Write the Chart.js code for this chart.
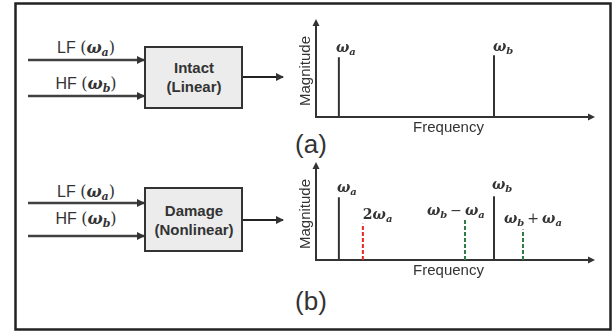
<!DOCTYPE html>
<html>
<head>
<meta charset="utf-8">
<script src="https://cdn.jsdelivr.net/npm/chart.js@4.4.1/dist/chart.umd.min.js"></script>
<style>
  body { margin: 0; background: #fff; }
  #page { position: relative; width: 614px; height: 333px; overflow: hidden; }
  #page svg { position: absolute; left: 0; top: 0; }
  #page canvas { position: absolute; }
  #c1 { left: 288px; top: 8px; }
  #c2 { left: 288px; top: 150px; }
  .m { font-family: "DejaVu Serif", serif; font-weight: bold; font-style: italic; }
  .p { font-family: "DejaVu Serif", serif; }
</style>
</head>
<body>
<div id="page">
<svg width="614" height="333" xmlns="http://www.w3.org/2000/svg">
  <defs>
    <marker id="ah" markerWidth="8" markerHeight="8" refX="7" refY="4" orient="auto" markerUnits="userSpaceOnUse">
      <path d="M0,0 L8,4 L0,8 z" fill="#333"/>
    </marker>
  </defs>
  <rect x="15.5" y="3.5" width="595" height="326" fill="none" stroke="#222" stroke-width="2.5"/>

  <!-- (a) intact -->
  <line x1="28" y1="60" x2="144" y2="60" stroke="#404040" stroke-width="2.5" marker-end="url(#ah)"/>
  <line x1="28" y1="96" x2="144" y2="96" stroke="#404040" stroke-width="2.5" marker-end="url(#ah)"/>
  <rect x="145" y="47" width="97" height="61" fill="#ececec" stroke="#333" stroke-width="2"/>
  <line x1="243" y1="77" x2="283" y2="77" stroke="#222" stroke-width="2" marker-end="url(#ah)"/>
  <g font-family="Liberation Sans, Arial, sans-serif" font-size="16" fill="#333" text-anchor="middle">
    <text x="86" y="53">LF <tspan class="p">(</tspan><tspan class="m">ω</tspan><tspan class="m" font-size="11" dy="3">a</tspan><tspan class="p" dy="-3">)</tspan></text>
    <text x="86" y="89">HF <tspan class="p">(</tspan><tspan class="m">ω</tspan><tspan class="m" font-size="11" dy="3">b</tspan><tspan class="p" dy="-3">)</tspan></text>
    <text x="194" y="73" font-weight="bold" font-size="15">Intact</text>
    <text x="194" y="92" font-weight="bold" font-size="15">(Linear)</text>
    <text x="311" y="153" font-size="26">(a)</text>
  </g>

  <!-- (b) damage -->
  <line x1="28" y1="203" x2="144" y2="203" stroke="#404040" stroke-width="2.5" marker-end="url(#ah)"/>
  <line x1="28" y1="236" x2="144" y2="236" stroke="#404040" stroke-width="2.5" marker-end="url(#ah)"/>
  <rect x="145" y="188" width="97" height="63" fill="#ececec" stroke="#333" stroke-width="2"/>
  <line x1="243" y1="220" x2="283" y2="220" stroke="#222" stroke-width="2" marker-end="url(#ah)"/>
  <g font-family="Liberation Sans, Arial, sans-serif" font-size="16" fill="#333" text-anchor="middle">
    <text x="86" y="197">LF <tspan class="p">(</tspan><tspan class="m">ω</tspan><tspan class="m" font-size="11" dy="3">a</tspan><tspan class="p" dy="-3">)</tspan></text>
    <text x="86" y="224">HF <tspan class="p">(</tspan><tspan class="m">ω</tspan><tspan class="m" font-size="11" dy="3">b</tspan><tspan class="p" dy="-3">)</tspan></text>
    <text x="194" y="216" font-weight="bold" font-size="15">Damage</text>
    <text x="194" y="235" font-weight="bold" font-size="15">(Nonlinear)</text>
    <text x="311" y="310" font-size="26">(b)</text>
  </g>
</svg>
<canvas id="c1" width="322" height="140"></canvas>
<canvas id="c2" width="322" height="140"></canvas>
</div>
<script>
// spectrum (a): intact, linear response
const freqA = [8.2, 63.8];
const magA = [0.61, 0.63];
const labelsA = ['ω_a', 'ω_b'];
const kindA = ['input', 'input'];

// spectrum (b): damage, nonlinear response
const freqB = [8.2, 16.8, 53.4, 63.8, 74.2];
const magB = [0.64, 0.37, 0.41, 0.65, 0.31];
const labelsB = ['ω_a', '2ω_a', 'ω_b − ω_a', 'ω_b', 'ω_b + ω_a'];
const kindB = ['input', 'harmonic', 'sideband', 'input', 'sideband'];

const freqMax = 100;
const magMax = 1;

// how each kind of line looks
const styleOf = {
  input:    { color: '#333333', dash: [] },
  harmonic: { color: '#e32b22', dash: [4, 2] },
  sideband: { color: '#2f7a45', dash: [4, 2] }
};
// label nudges in px, [dx from the line, dy above its top]
const shiftA = [[-3, 5], [-1, 4]];
const shiftB = [[-2, 5], [0, 5], [-38, 5], [-2, 7], [-19, 7]];

const ink = '#333';
const mathFont = 'bold italic 14px "DejaVu Serif", serif';
const subFont = 'bold italic 10px "DejaVu Serif", serif';
const opFont = '14px "DejaVu Serif", serif';

// draws things like "ω_b − ω_a": "_" marks a subscript letter
function drawMath(ctx, text, x, y) {
  let cx = x;
  let i = 0;
  while (i < text.length) {
    const ch = text[i];
    if (ch === '_') {
      ctx.font = subFont;
      ctx.fillText(text[i + 1], cx, y + 3);
      cx += ctx.measureText(text[i + 1]).width;
      i += 2;
      continue;
    }
    if (ch === ' ') { cx += 3; i++; continue; }
    if (ch === '−' || ch === '+') {
      ctx.font = opFont;
      ctx.fillText(ch, cx, y);
      cx += ctx.measureText(ch).width;
      i++;
      continue;
    }
    ctx.font = /[0-9]/.test(ch) ? 'bold 14px "DejaVu Serif", serif' : mathFont;
    ctx.fillText(ch, cx, y);
    cx += ctx.measureText(ch).width;
    i++;
  }
}

const axesPlugin = {
  id: 'spectrumAxes',
  beforeDatasetsDraw(chart) {
    const { ctx, chartArea: a } = chart;
    ctx.save();
    ctx.strokeStyle = ink;
    ctx.fillStyle = ink;
    ctx.lineWidth = 2;
    ctx.beginPath();
    ctx.moveTo(a.left, a.bottom);
    ctx.lineTo(a.left, a.top + 5);
    ctx.moveTo(a.left - 1, a.bottom);
    ctx.lineTo(a.right - 5, a.bottom);
    ctx.stroke();
    // arrow heads
    ctx.beginPath();
    ctx.moveTo(a.left, a.top);
    ctx.lineTo(a.left - 3.5, a.top + 7);
    ctx.lineTo(a.left + 3.5, a.top + 7);
    ctx.closePath();
    ctx.fill();
    ctx.beginPath();
    ctx.moveTo(a.right, a.bottom);
    ctx.lineTo(a.right - 7, a.bottom - 3.5);
    ctx.lineTo(a.right - 7, a.bottom + 3.5);
    ctx.closePath();
    ctx.fill();
    // axis titles
    ctx.font = '15px "Liberation Sans", Arial, sans-serif';
    ctx.textAlign = 'center';
    ctx.textBaseline = 'middle';
    ctx.fillText('Frequency', (a.left + a.right) / 2 - 7, a.bottom + 11);
    ctx.translate(a.left - 10, (a.top + a.bottom) / 2 + 3);
    ctx.rotate(-Math.PI / 2);
    ctx.fillText('Magnitude', 0, 0);
    ctx.restore();
  },
  afterDatasetsDraw(chart, args, opts) {
    const { ctx } = chart;
    const xs = chart.scales.x, ys = chart.scales.y;
    ctx.save();
    ctx.fillStyle = ink;
    ctx.textAlign = 'left';
    ctx.textBaseline = 'alphabetic';
    opts.freqs.forEach((f, i) => {
      const px = xs.getPixelForValue(f);
      const py = ys.getPixelForValue(opts.mags[i]);
      const s = opts.shift[i];
      drawMath(ctx, opts.labels[i], px + s[0], py - s[1]);
    });
    ctx.restore();
  }
};

function spikeSets(freqs, mags, kinds) {
  return freqs.map((f, i) => ({
    data: [{ x: f, y: 0 }, { x: f, y: mags[i] }],
    showLine: true,
    borderColor: styleOf[kinds[i]].color,
    borderDash: styleOf[kinds[i]].dash,
    borderWidth: 2,
    pointRadius: 0,
    borderCapStyle: 'butt'
  }));
}

function makeSpectrum(id, freqs, mags, kinds, labels, shift, pad) {
  return new Chart(document.getElementById(id), {
    type: 'scatter',
    data: { datasets: spikeSets(freqs, mags, kinds) },
    options: {
      responsive: false,
      animation: false,
      devicePixelRatio: 1,
      layout: { padding: pad },
      scales: {
        x: { type: 'linear', min: 0, max: freqMax, display: false },
        y: { min: 0, max: magMax, display: false }
      },
      plugins: {
        legend: { display: false },
        tooltip: { enabled: false },
        spectrumAxes: { freqs: freqs, mags: mags, labels: labels, shift: shift }
      }
    },
    plugins: [axesPlugin]
  });
}

makeSpectrum('c1', freqA, magA, kindA, labelsA, shiftA, { left: 28, right: 15, top: 11, bottom: 31 });
makeSpectrum('c2', freqB, magB, kindB, labelsB, shiftB, { left: 28, right: 15, top: 12, bottom: 30 });
</script>
</body>
</html>
